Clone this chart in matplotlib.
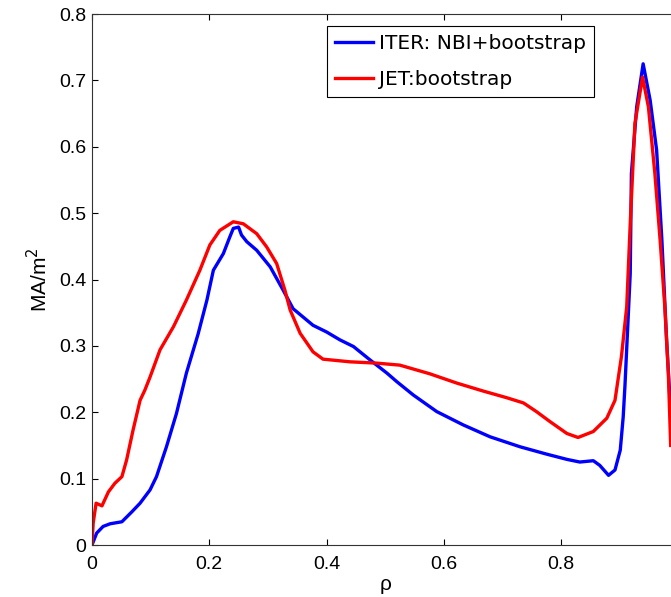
import matplotlib
matplotlib.use("Agg")
import matplotlib.pyplot as plt

# Current density profiles versus normalised radius rho
iter_rho = [0.0, 0.008, 0.019, 0.031, 0.051, 0.068, 0.082, 0.099, 0.110, 0.127,
            0.144, 0.161, 0.181, 0.196, 0.207, 0.224, 0.235, 0.241, 0.250, 0.255,
            0.264, 0.281, 0.304, 0.326, 0.343, 0.377, 0.400, 0.423, 0.446, 0.474,
            0.503, 0.520, 0.548, 0.588, 0.633, 0.679, 0.730, 0.775, 0.810, 0.832,
            0.855, 0.866, 0.881, 0.892, 0.901, 0.906, 0.909, 0.918, 0.920, 0.929,
            0.940, 0.952, 0.963, 0.972, 0.980, 0.987]
iter_j = [0.0, 0.018, 0.028, 0.032, 0.035, 0.050, 0.063, 0.083, 0.103, 0.148,
          0.198, 0.259, 0.318, 0.369, 0.414, 0.439, 0.464, 0.477, 0.479, 0.467,
          0.457, 0.444, 0.419, 0.384, 0.356, 0.331, 0.321, 0.309, 0.299, 0.279,
          0.259, 0.246, 0.226, 0.201, 0.181, 0.163, 0.148, 0.137, 0.129, 0.125,
          0.127, 0.120, 0.105, 0.113, 0.143, 0.193, 0.240, 0.409, 0.560, 0.660,
          0.725, 0.670, 0.595, 0.459, 0.309, 0.200]

jet_rho = [0.0, 0.002, 0.007, 0.017, 0.028, 0.039, 0.051, 0.059, 0.070, 0.082,
           0.090, 0.099, 0.116, 0.139, 0.161, 0.184, 0.201, 0.218, 0.241, 0.258,
           0.281, 0.298, 0.315, 0.329, 0.338, 0.355, 0.377, 0.394, 0.440, 0.486,
           0.525, 0.576, 0.622, 0.667, 0.707, 0.736, 0.758, 0.781, 0.810, 0.829,
           0.855, 0.878, 0.892, 0.903, 0.912, 0.918, 0.926, 0.939, 0.949, 0.960,
           0.969, 0.977, 0.983, 0.987]
jet_j = [0.0, 0.033, 0.063, 0.059, 0.080, 0.093, 0.103, 0.128, 0.173, 0.218,
         0.233, 0.253, 0.294, 0.329, 0.369, 0.414, 0.452, 0.474, 0.487, 0.484,
         0.469, 0.449, 0.424, 0.384, 0.354, 0.319, 0.291, 0.280, 0.276, 0.274,
         0.271, 0.258, 0.244, 0.232, 0.222, 0.214, 0.201, 0.186, 0.168, 0.162,
         0.171, 0.191, 0.218, 0.284, 0.359, 0.484, 0.635, 0.705, 0.660, 0.560,
         0.459, 0.359, 0.259, 0.150]

x_ticks = [0, 0.2, 0.4, 0.6, 0.8]
x_tick_labels = ["0", "0.2", "0.4", "0.6", "0.8"]
y_ticks = [0, 0.1, 0.2, 0.3, 0.4, 0.5, 0.6, 0.7, 0.8]
y_tick_labels = ["0", "0.1", "0.2", "0.3", "0.4", "0.5", "0.6", "0.7", "0.8"]

plt.rcParams["font.family"] = ["Liberation Sans", "DejaVu Sans"]

fig = plt.figure(figsize=(6.71, 5.97), dpi=100)
# the axes run slightly past the right edge of the canvas (rho = 1 is off-canvas)
ax = fig.add_axes([0.1371, 0.0871, 0.8738, 0.8894])

ax.plot(iter_rho, iter_j, color="#0000ff", lw=2.4, label="ITER: NBI+bootstrap")
ax.plot(jet_rho, jet_j, color="#ff0000", lw=2.4, label="JET:bootstrap")

ax.set_xlim(0, 1)
ax.set_ylim(0, 0.8)
ax.set_xticks(x_ticks)
ax.set_xticklabels(x_tick_labels)
ax.set_yticks(y_ticks)
ax.set_yticklabels(y_tick_labels)
ax.tick_params(direction="in", length=4, width=0.8, labelsize=14,
               top=True, right=True)
ax.tick_params(axis="x", pad=8)
ax.tick_params(axis="y", pad=4)
for sp in ax.spines.values():
    sp.set_linewidth(0.8)
    sp.set_color("#333333")

ax.set_xlabel("ρ", fontsize=15, labelpad=1)
ax.set_ylabel("MA/m$^2$", fontsize=15, labelpad=6)

leg = ax.legend(loc="upper left", bbox_to_anchor=(0.4873, 0.9564),
                bbox_transform=fig.transFigure,
                prop={"family": "DejaVu Sans", "size": 14.5},
                frameon=True, fancybox=False, framealpha=1,
                edgecolor="black", borderaxespad=0, borderpad=0.4,
                handlelength=1.9, handletextpad=0.3, labelspacing=0.85)
leg.get_frame().set_linewidth(0.8)

fig.savefig("out.png", dpi=100)
